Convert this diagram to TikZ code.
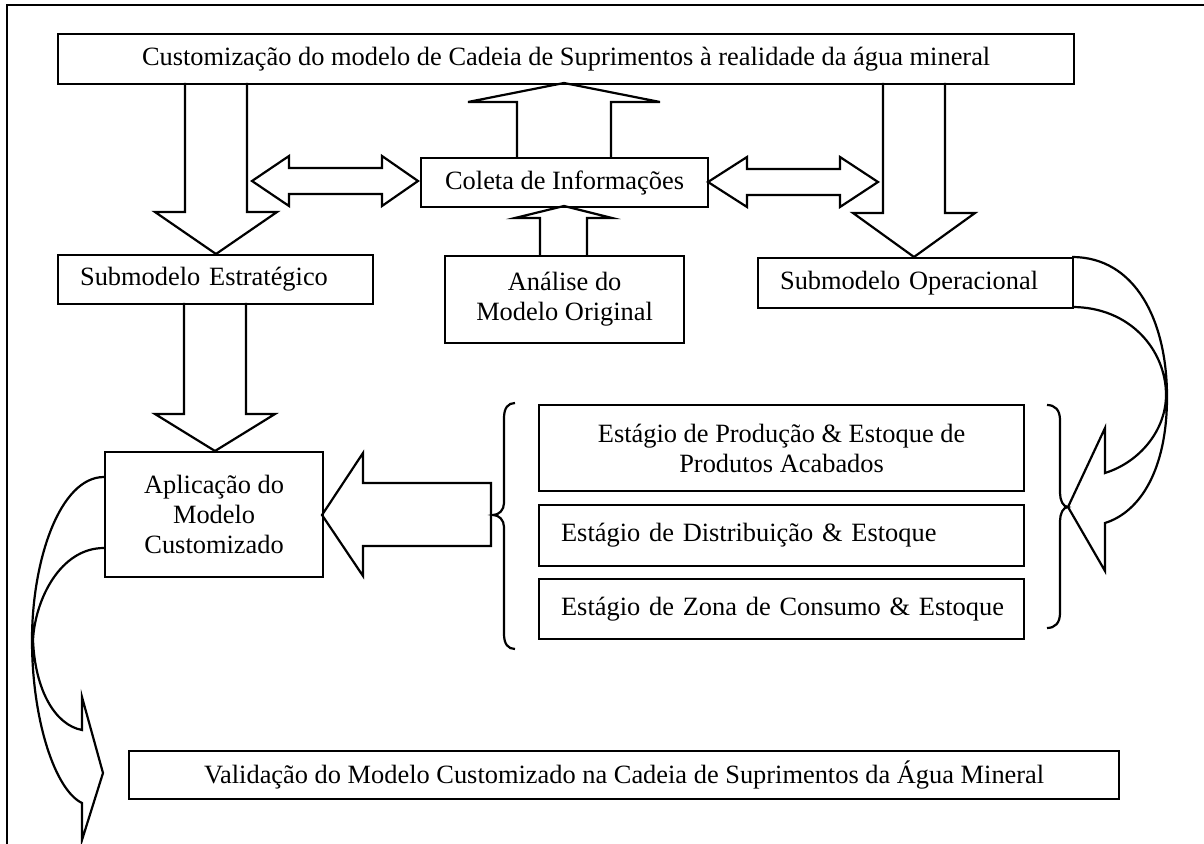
\documentclass[tikz,border=0pt]{standalone}
\usepackage{fontspec}
\setmainfont{Liberation Serif}
\begin{document}
\begin{tikzpicture}[x=0.5pt,y=-0.5pt,
  box/.style={draw,line width=1.1pt,inner sep=0pt,anchor=north west,align=center,font=\fontsize{13.2}{15}\selectfont},
  lbox/.style={box,align=left,inner xsep=11pt},
  blk/.style={draw,line width=1.1pt,line join=miter},
  ln/.style={draw,line width=1.1pt}]
\useasboundingbox (0,0) rectangle (1204,844);
\draw[ln] (7,844) -- (7,5) -- (1204,5);

% boxes
\node[box,minimum width=508pt,minimum height=25pt] (top) at (57,33) {Customização do modelo de Cadeia de Suprimentos à realidade da água mineral};
\node[box,minimum width=143.5pt,minimum height=24.5pt] (coleta) at (420,157) {Coleta de Informações};
\node[box,minimum width=119.5pt,minimum height=43.5pt] (analise) at (444,255) {Análise do\\Modelo Original};
\node[lbox,text width=135.5pt,minimum height=24.5pt] (estr) at (57,254) {\mbox{Submodelo Estratégico}};
\node[lbox,text width=135.5pt,minimum height=25pt] (oper) at (757,257) {\mbox{Submodelo Operacional}};
\node[box,minimum width=109pt,minimum height=62.5pt] (aplic) at (104,451) {Aplicação do\\Modelo\\Customizado};
\node[box,minimum width=242.5pt,minimum height=43pt] (s1) at (538,404) {Estágio de Produção \& Estoque de\\Produtos Acabados};
\node[lbox,text width=220.5pt,minimum height=30.5pt] (s2) at (538,504) {\mbox{Estágio de Distribuição \& Estoque}};
\node[lbox,text width=220.5pt,minimum height=30pt] (s3) at (538,578) {\mbox{Estágio de Zona de Consumo \& Estoque}};
\node[box,minimum width=495pt,minimum height=24pt] (valid) at (128,750) {Validação do Modelo Customizado na Cadeia de Suprimentos da Água Mineral};

% block arrows
\draw[blk] (185,83) -- (185,212) -- (155,212) -- (216,254) -- (277,212) -- (247,212) -- (247,83);
\draw[blk] (184,303) -- (184,414) -- (155,414) -- (215,451) -- (275,414) -- (246,414) -- (246,303);
\draw[blk] (517,157) -- (517,102) -- (468,102) -- (564,83) -- (660,102) -- (611,102) -- (611,157);
\draw[blk] (540,255) -- (540,218) -- (515,218) -- (564,206) -- (612,218) -- (587,218) -- (587,255);
\draw[blk] (252,181) -- (289,156) -- (289,168) -- (382,168) -- (382,156) -- (418,181) -- (382,206) -- (382,194) -- (289,194) -- (289,206) -- cycle;
\draw[blk] (708,182) -- (747,157) -- (747,169) -- (840,169) -- (840,157) -- (878,182) -- (840,207) -- (840,195) -- (747,195) -- (747,207) -- cycle;
\draw[blk] (883,83) -- (883,213) -- (853,213) -- (914,257) -- (975,213) -- (945,213) -- (945,83);
\draw[blk] (322,515) -- (363,453) -- (363,483) -- (491,483) -- (491,546) -- (363,546) -- (363,576) -- cycle;

% braces
\draw[ln] (515,403) .. controls (508,403) and (504,408) .. (504,418) -- (504,503) .. controls (504,510) and (499,515) .. (493,515) .. controls (499,515) and (504,520) .. (504,527) -- (504,634) .. controls (504,644) and (508,649) .. (515,649);
\draw[ln] (1047,405) .. controls (1055,405) and (1060,410) .. (1060,420) -- (1060,493) .. controls (1060,500) and (1063,507) .. (1068,507) .. controls (1063,507) and (1060,514) .. (1060,521) -- (1060,613) .. controls (1060,623) and (1055,628) .. (1047,628);

% curved arrow right
\draw[blk] (1072,257) .. controls (1135,257) and (1167,320) .. (1167,397) .. controls (1167,470) and (1140,512) .. (1105,523)
  -- (1105,571) -- (1068,507) -- (1105,428) -- (1105,473)
  .. controls (1140,462) and (1166,430) .. (1166,395) .. controls (1166,350) and (1130,307) .. (1072,307);

% curved arrow left
\draw[blk] (104,477) .. controls (60,477) and (32,560) .. (32,640) .. controls (32,720) and (55,790) .. (82,803)
  -- (82,840) -- (103,773) -- (82,697) -- (82,730)
  .. controls (55,725) and (35,690) .. (33,640) .. controls (35,600) and (60,548) .. (104,548);
\end{tikzpicture}
\end{document}
